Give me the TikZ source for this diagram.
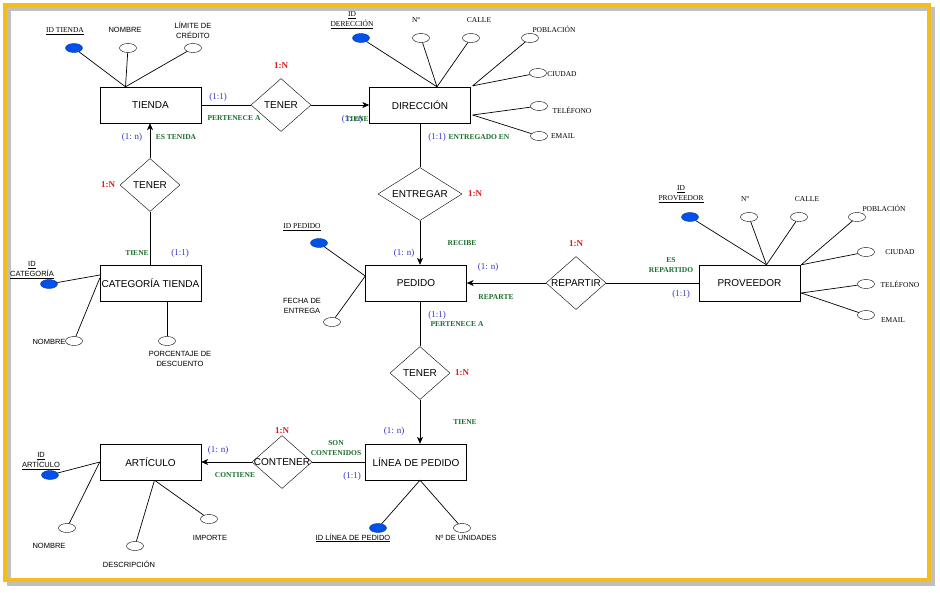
\documentclass[tikz,border=0pt]{standalone}
\usepackage{fontspec}
\setmainfont{Liberation Serif}
\setsansfont{Liberation Sans}
\usepackage{tikz}
\usetikzlibrary{arrows.meta,shapes.geometric,positioning,calc}
\usepackage{xcolor}
\definecolor{keyblue}{RGB}{0,80,235}
\definecolor{cardblue}{RGB}{50,50,200}
\definecolor{rolegreen}{RGB}{25,110,45}
\definecolor{ratiored}{RGB}{225,25,25}
\definecolor{framegold}{RGB}{242,190,30}

\begin{document}
\begin{tikzpicture}[x=1pt,y=-1pt,
  ent/.style={rectangle,draw,minimum width=101pt,minimum height=36pt,
              font=\fontsize{10}{12}\sffamily,inner sep=1pt},
  rel/.style={diamond,draw,minimum width=60pt,minimum height=53pt,inner sep=0pt,
              label={[font=\fontsize{10}{12}\sffamily]center:#1}},
  att/.style={ellipse,draw,minimum width=17pt,minimum height=9pt,inner sep=0pt},
  key/.style={att,fill=keyblue,draw=keyblue!70!black},
  asans/.style={font=\fontsize{7.5}{10}\sffamily,inner sep=0pt,align=center},
  aserif/.style={font=\fontsize{7.5}{10}\rmfamily,inner sep=0pt,align=center},
  card/.style={font=\fontsize{9}{10}\rmfamily,text=cardblue,inner sep=0pt},
  role/.style={font=\fontsize{7.5}{10}\rmfamily\bfseries,text=rolegreen,inner sep=0pt,align=center},
  ratio/.style={font=\fontsize{9}{10}\rmfamily\bfseries,text=ratiored,inner sep=0pt},
  lnk/.style={line width=0.7pt},
  arr/.style={lnk,-{Stealth[length=7pt,width=6pt,inset=2pt]}},
]
\useasboundingbox (0,0) rectangle (940,592);
% Frame
\draw[black!25,line width=4pt] (9,9) rectangle (933,584);
\draw[framegold,line width=4.5pt] (5,5) rectangle (929,580);

% Entities
\node[ent] (tienda)  at (150.5,105) {TIENDA};
\node[ent] (dir)     at (420,105)   {DIRECCIÓN};
\node[ent] (cat)     at (150.5,283) {CATEGORÍA TIENDA};
\node[ent] (pedido)  at (416,283)   {PEDIDO};
\node[ent] (prov)    at (749.5,283) {PROVEEDOR};
\node[ent] (linea)   at (416,462)   {LÍNEA DE PEDIDO};
\node[ent] (art)     at (150.5,462) {ARTÍCULO};

% Relations
\node[rel=TENER]    (ten1) at (281,105) {};
\node[rel=TENER]    (ten2) at (150,185) {};
\node[rel=ENTREGAR, minimum width=84pt] (entr) at (420,194) {};
\node[rel=REPARTIR] (rep)  at (576,283) {};
\node[rel=TENER]    (ten3) at (420,373) {};
\node[rel=CONTENER] (cont) at (282,462) {};

% Connectors
\draw[lnk] (tienda.east) -- (ten1.west);
\draw[arr] (ten1.east) -- (dir.west);
\draw[lnk] (dir.south) -- (entr.north);
\draw[arr] (entr.south) -- (entr.south |- pedido.north);
\draw[arr] (rep.west) -- (pedido.east);
\draw[lnk] (rep.east) -- (prov.west);
\draw[lnk] (ten3.north |- pedido.south) -- (ten3.north);
\draw[arr] (ten3.south) -- (ten3.south |- linea.north);
\draw[lnk] (linea.west) -- (cont.east);
\draw[arr] (cont.west) -- (art.east);
\draw[lnk] (cat.north -| ten2.south) -- (ten2.south);
\draw[arr] (ten2.north) -- (ten2.north |- tienda.south);

% Tienda attributes
\node[key] (tid)  at (74,48)  {};
\node[att] (tnom) at (128,48) {};
\node[att] (tlim) at (193,48) {};
\node[aserif] (ltid)  at (65,31)  {\underline{ID TIENDA}};
\node[asans]  (ltnom) at (125,30) {NOMBRE};
\node[asans]  (ltlim) at (193,30) {LÍMITE DE\\CRÉDITO};
\coordinate (ttop) at ($(tienda.north)+(-25,0)$);
\foreach \a in {tid,tnom,tlim} \draw[lnk] (\a) -- (ttop);

% Direccion attributes
\node[key] (did)  at (361,38)  {};
\node[att] (dnum) at (421,38)  {};
\node[att] (dcal) at (471,38)  {};
\node[att] (dpob) at (530,38)  {};
\node[att] (dciu) at (538,73)  {};
\node[att] (dtel) at (539,106) {};
\node[att] (dema) at (539,136) {};
\node[aserif] (ldid)  at (352,20)  {\underline{ID}\\\underline{DERECCIÓN}};
\node[aserif] (ldnum) at (416,20)  {Nº};
\node[aserif] (ldcal) at (479,20)  {CALLE};
\node[aserif] (ldpob) at (554,29)  {POBLACIÓN};
\node[aserif] (ldciu) at (562,74)  {CIUDAD};
\node[aserif] (ldtel) at (572,110) {TELÉFONO};
\node[aserif] (ldema) at (563,136) {EMAIL};
\coordinate (dtop) at ($(dir.north)+(17,0)$);
\coordinate (drup) at ($(dir.north east)+(2,-1)$);
\coordinate (drlo) at ($(dir.east)+(2,10)$);
\foreach \a in {did,dnum,dcal} \draw[lnk] (\a) -- (dtop);
\foreach \a in {dpob,dciu} \draw[lnk] (\a) -- (drup);
\foreach \a in {dtel,dema} \draw[lnk] (\a) -- (drlo);

% Categoria attributes
\node[key] (cid)  at (49,284)  {};
\node[att] (cnom) at (74,341)  {};
\node[att] (cpor) at (167,341) {};
\node[asans] (lcid)  at (32,270)  {\underline{ID}\\\underline{CATEGORÍA}};
\node[asans] (lcnom) at (49,342)  {NOMBRE};
\node[asans] (lcpor) at (180,359) {PORCENTAJE DE\\DESCUENTO};
\draw[lnk] (cid) -- ($(cat.west)+(0,-8)$);
\draw[lnk] (cnom) -- ($(cat.west)+(0,-5)$);
\draw[lnk] (cat.south -| cpor) -- (cpor);

% Pedido attributes
\node[key] (pid)  at (319,243) {};
\node[att] (pfec) at (332,322) {};
\node[aserif] (lpid)  at (302,227) {\underline{ID PEDIDO}};
\node[asans]  (lpfec) at (302,306) {FECHA DE\\ENTREGA};
\foreach \a in {pid,pfec} \draw[lnk] (\a) -- ($(pedido.west)+(0,-7)$);

% Proveedor attributes
\node[key] (vid)  at (690,217) {};
\node[att] (vnum) at (749,217) {};
\node[att] (vcal) at (799,217) {};
\node[att] (vpob) at (857,217) {};
\node[att] (vciu) at (866,252) {};
\node[att] (vtel) at (866,284) {};
\node[att] (vema) at (866,315) {};
\node[aserif] (lvid)  at (681,194) {\underline{ID}\\\underline{PROVEEDOR}};
\node[aserif] (lvnum) at (745,199) {Nº};
\node[aserif] (lvcal) at (807,199) {CALLE};
\node[aserif] (lvpob) at (884,208) {POBLACIÓN};
\node[aserif] (lvciu) at (900,252) {CIUDAD};
\node[aserif] (lvtel) at (900,284) {TELÉFONO};
\node[aserif] (lvema) at (893,320) {EMAIL};
\coordinate (vtop) at ($(prov.north)+(17,0)$);
\coordinate (vrup) at ($(prov.north east)+(1,0)$);
\coordinate (vrlo) at ($(prov.east)+(1,10)$);
\foreach \a in {vid,vnum,vcal} \draw[lnk] (\a) -- (vtop);
\foreach \a in {vpob,vciu} \draw[lnk] (\a) -- (vrup);
\foreach \a in {vtel,vema} \draw[lnk] (\a) -- (vrlo);

% Linea de pedido attributes
\node[key] (lid)  at (378,528) {};
\node[att] (luni) at (462,528) {};
\node[asans] (llid)  at (353,538) {\underline{ID LÍNEA DE PEDIDO}};
\node[asans] (lluni) at (466,538) {Nº DE UNIDADES};
\foreach \a in {lid,luni} \draw[lnk] (\a) -- ($(linea.south)+(4,0)$);

% Articulo attributes
\node[key] (aid)  at (50,475)  {};
\node[att] (anom) at (67,528)  {};
\node[att] (ades) at (135,546) {};
\node[att] (aimp) at (209,519) {};
\node[asans] (laid)  at (41,461)  {\underline{ID}\\\underline{ARTÍCULO}};
\node[asans] (lanom) at (49,546)  {NOMBRE};
\node[asans] (lades) at (129,564) {DESCRIPCIÓN};
\node[asans] (laimp) at (210,538) {IMPORTE};
\foreach \a in {aid,anom} \draw[lnk] (\a) -- (art.west);
\foreach \a in {ades,aimp} \draw[lnk] (\a) -- ($(art.south)+(4,0)$);

% Cardinalities and roles
\node[card]  (k1)  at (218,97)  {(1:1)};
\node[role]  (r1)  at (234,118) {PERTENECE A};
\node[ratio] (n1)  at (281,66)  {1:N};
\node[card]  (k2)  at (352,119) {(1: n)};
\node[role]  (r2)  at (357,119) {TIENE};
\node[card]  (k3)  at (437,137) {(1:1)};
\node[role]  (r3)  at (479,137) {ENTREGADO EN};
\node[ratio] (n2)  at (475,194) {1:N};
\node[card]  (k4)  at (404,253) {(1: n)};
\node[role]  (r4)  at (462,243) {RECIBE};
\node[card]  (k5)  at (488,267) {(1: n)};
\node[role]  (r5)  at (496,297) {REPARTE};
\node[ratio] (n3)  at (576,244) {1:N};
\node[role]  (r6)  at (671,265) {ES\\REPARTIDO};
\node[card]  (k6)  at (681,294) {(1:1)};
\node[card]  (k7)  at (437,315) {(1:1)};
\node[role]  (r7)  at (457,324) {PERTENECE A};
\node[ratio] (n4)  at (462,373) {1:N};
\node[card]  (k8)  at (394,431) {(1: n)};
\node[role]  (r8)  at (465,422) {TIENE};
\node[role]  (r9)  at (336,448) {SON\\CONTENIDOS};
\node[card]  (k9)  at (352,476) {(1:1)};
\node[ratio] (n5)  at (282,431) {1:N};
\node[card]  (k10) at (218,450) {(1: n)};
\node[role]  (r10) at (235,475) {CONTIENE};
\node[card]  (k11) at (132,137) {(1: n)};
\node[role]  (r11) at (176,137) {ES TENIDA};
\node[ratio] (n6)  at (108,185) {1:N};
\node[role]  (r12) at (137,253) {TIENE};
\node[card]  (k12) at (180,253) {(1:1)};
\end{tikzpicture}
\end{document}
